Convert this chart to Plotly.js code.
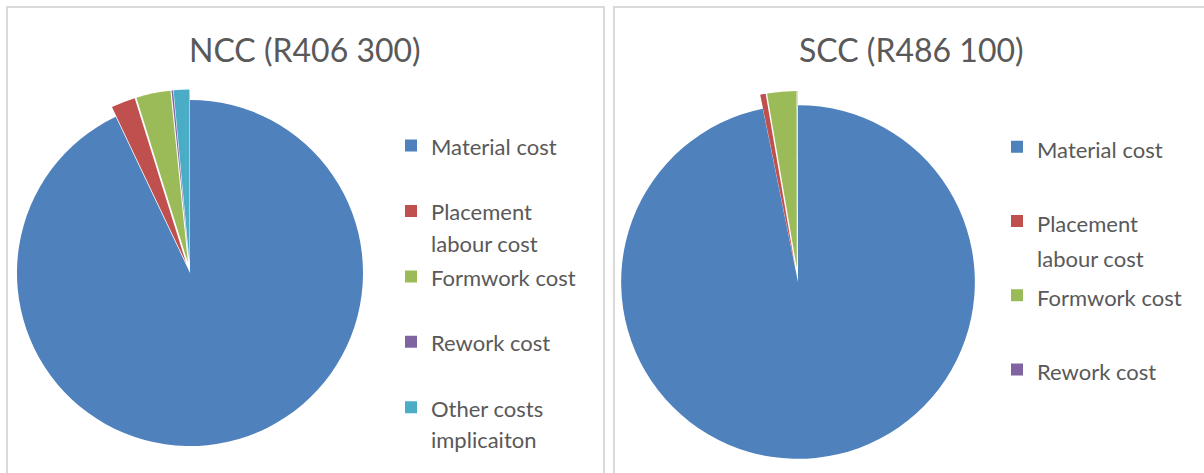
<!DOCTYPE html>
<html>
<head>
<meta charset="utf-8">
<script src="https://cdn.plot.ly/plotly-3.0.1.min.js"></script>
<style>
  html, body { margin: 0; padding: 0; background: #ffffff; }
  #chart { width: 1204px; height: 473px; }
</style>
</head>
<body>
<div id="chart"></div>
<script>
// ---- data ----
const nccTitle = "NCC (R406 300)";
const sccTitle = "SCC (R486 100)";
const nccCategories = ["Material cost", "Placement labour cost", "Formwork cost", "Rework cost", "Other costs implicaiton"];
const nccValues = [92.94, 2.25, 3.2, 0.14, 1.47];
const sccCategories = ["Material cost", "Placement labour cost", "Formwork cost", "Rework cost"];
const sccValues = [96.83, 0.5, 2.67, 0.02];
const sliceColors = ["#4F81BD", "#C0504D", "#9BBB59", "#8064A2", "#4BACC6"];

// legend wrapping as in the original chart
const wrapped = {
  "Placement labour cost": "Placement<br>labour cost",
  "Other costs implicaiton": "Other costs<br>implicaiton"
};
// style string differs per chart so the two pies keep separate legend entries
function legendLabel(name, lines, style) {
  const w = wrapped[name] || name;
  const parts = w.split("<br>").map(p => "<span style='" + style + "'>" + p + "</span>");
  while (parts.length < lines) parts.push(" ");
  return parts.join("<br>");
}

const W = 1204, H = 473;
const px = v => v / W;
const py = v => (H - v) / H;

const textColor = "#595959";
const fontFam = "Lato, 'Open Sans', sans-serif";

const trace1 = {
  type: "pie",
  labels: nccCategories.map(c => legendLabel(c, 2, "font-size:22px")),
  values: nccValues,
  sort: false,
  direction: "clockwise",
  rotation: 0,
  pull: [0, 0.06, 0.06, 0.06, 0.06],
  marker: { colors: sliceColors.slice(0, nccValues.length), line: { width: 0 } },
  textinfo: "none",
  hoverinfo: "none",
  domain: { x: [0.00548, 0.31013], y: [0.0351, 0.8106] },
  legend: "legend"
};
const trace2 = {
  type: "pie",
  labels: sccCategories.map(c => legendLabel(c, 2, "font-size:22px;")),
  values: sccValues,
  sort: false,
  direction: "clockwise",
  rotation: 0,
  pull: [0, 0.08, 0.08, 0.08],
  marker: { colors: sliceColors.slice(0, sccValues.length), line: { width: 0 } },
  textinfo: "none",
  hoverinfo: "none",
  domain: { x: [0.50415, 0.82143], y: [0, 0.8076] },
  legend: "legend2"
};

const layout = {
  width: W, height: H,
  margin: { l: 0, r: 0, t: 0, b: 0 },
  paper_bgcolor: "#ffffff",
  font: { family: fontFam, color: textColor },
  showlegend: true,
  legend: {
    x: px(391), y: py(123.5), xanchor: "left", yanchor: "top",
    font: { family: fontFam, size: 24.0, color: textColor },
    valign: "top", bgcolor: "rgba(0,0,0,0)", traceorder: "normal"
  },
  legend2: {
    x: px(997), y: py(122.5), xanchor: "left", yanchor: "top",
    font: { family: fontFam, size: 27.4, color: textColor },
    valign: "top", bgcolor: "rgba(0,0,0,0)", traceorder: "normal"
  },
  annotations: [
    { text: nccTitle, xref: "paper", yref: "paper", x: px(305), y: py(50), xanchor: "center", yanchor: "middle",
      showarrow: false, font: { family: fontFam, size: 32, color: textColor } },
    { text: sccTitle, xref: "paper", yref: "paper", x: px(911), y: py(50), xanchor: "center", yanchor: "middle",
      showarrow: false, font: { family: fontFam, size: 32, color: textColor } }
  ],
  shapes: [
    { type: "rect", xref: "paper", yref: "paper", x0: px(7), x1: px(604), y0: py(7), y1: -0.1,
      line: { color: "#d9d9d9", width: 2 }, layer: "below" },
    { type: "rect", xref: "paper", yref: "paper", x0: px(614), x1: 1.1, y0: py(7), y1: -0.1,
      line: { color: "#d9d9d9", width: 2 }, layer: "below" }
  ]
};

Plotly.newPlot("chart", [trace1, trace2], layout, { displayModeBar: false, staticPlot: true });
</script>
</body>
</html>
